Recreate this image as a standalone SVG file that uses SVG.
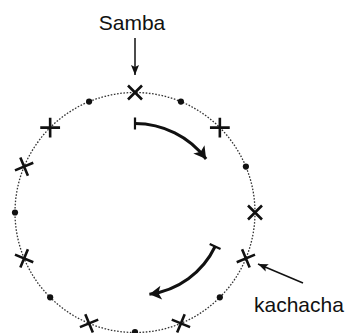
<svg xmlns="http://www.w3.org/2000/svg" width="345" height="333" viewBox="0 0 345 333">
<style>
.lbl{font-family:"Liberation Sans",Arial,sans-serif;font-size:21px;fill:#111}
.ring{fill:none;stroke:#333;stroke-width:1.3;stroke-dasharray:1.6 1.6}
.x{fill:none;stroke:#111;stroke-width:2.6;stroke-linecap:butt}
.dot{fill:#111}
.thin{fill:none;stroke:#111;stroke-width:1.5}
.thick{fill:none;stroke:#111;stroke-width:3}
</style>
<defs>
<marker id="ah" markerUnits="userSpaceOnUse" markerWidth="12" markerHeight="10" refX="10" refY="5" orient="auto" overflow="visible">
<path d="M0,1 L10,5 L0,9 L2,5 Z" fill="#111"/>
</marker>
<marker id="ahb" markerUnits="userSpaceOnUse" markerWidth="14" markerHeight="14" refX="12" refY="7" orient="auto" overflow="visible">
<path d="M0,0 L12,7 L0,14 L3,7 Z" fill="#111"/>
</marker>
<marker id="bar" markerUnits="userSpaceOnUse" markerWidth="4" markerHeight="14" refX="1" refY="7" orient="auto" overflow="visible">
<path d="M1,1 L1,13" stroke="#111" stroke-width="2.2"/>
</marker>
<path id="cr" d="M-7,-7 L7,7 M-7,7 L7,-7"/>
</defs>
<rect width="345" height="333" fill="#fff"/>
<g id="ring"><circle class="ring" cx="135" cy="212.5" r="120"/></g>
<g id="beats">
<g id="b0"><use href="#cr" class="x" transform="translate(135,92.5) rotate(0)"/></g>
<g id="b1"><circle class="dot" cx="180.9" cy="101.6" r="3.1"/></g>
<g id="b2"><use href="#cr" class="x" transform="translate(219.85,127.65) rotate(45)"/></g>
<g id="b3"><circle class="dot" cx="245.9" cy="166.6" r="3.1"/></g>
<g id="b4"><use href="#cr" class="x" transform="translate(255,212.5) rotate(90)"/></g>
<g id="b5"><use href="#cr" class="x" transform="translate(245.87,258.42) rotate(112.5)"/></g>
<g id="b6"><circle class="dot" cx="219.85" cy="297.35" r="3.1"/></g>
<g id="b7"><use href="#cr" class="x" transform="translate(180.92,323.37) rotate(157.5)"/></g>
<g id="b8"><circle class="dot" cx="135" cy="332" r="3.1"/></g>
<g id="b9"><use href="#cr" class="x" transform="translate(89.08,323.37) rotate(202.5)"/></g>
<g id="b10"><circle class="dot" cx="50.15" cy="297.35" r="3.1"/></g>
<g id="b11"><use href="#cr" class="x" transform="translate(24.13,258.42) rotate(247.5)"/></g>
<g id="b12"><circle class="dot" cx="15" cy="212.5" r="3.1"/></g>
<g id="b13"><use href="#cr" class="x" transform="translate(24.13,166.58) rotate(292.5)"/></g>
<g id="b14"><use href="#cr" class="x" transform="translate(50.15,127.65) rotate(315)"/></g>
<g id="b15"><circle class="dot" cx="89.1" cy="101.6" r="3.1"/></g>
</g>
<g id="labels">
<g id="samba"><text class="lbl" x="132" y="30" text-anchor="middle">Samba</text></g>
<g id="kachacha"><text class="lbl" x="254" y="311.5">kachacha</text></g>
</g>
<g id="connectors">
<path class="thin" d="M135,38 L135,75" marker-end="url(#ah)"/>
<path class="thin" d="M303,283 L258,264" marker-end="url(#ah)"/>
<path class="thick" d="M135,123.5 A89,89 0 0 1 206.1,159" marker-start="url(#bar)" marker-end="url(#ahb)"/>
<path class="thick" d="M215.1,246.5 A85,85 0 0 1 149.4,294.2" marker-start="url(#bar)" marker-end="url(#ahb)"/>
</g>
</svg>
